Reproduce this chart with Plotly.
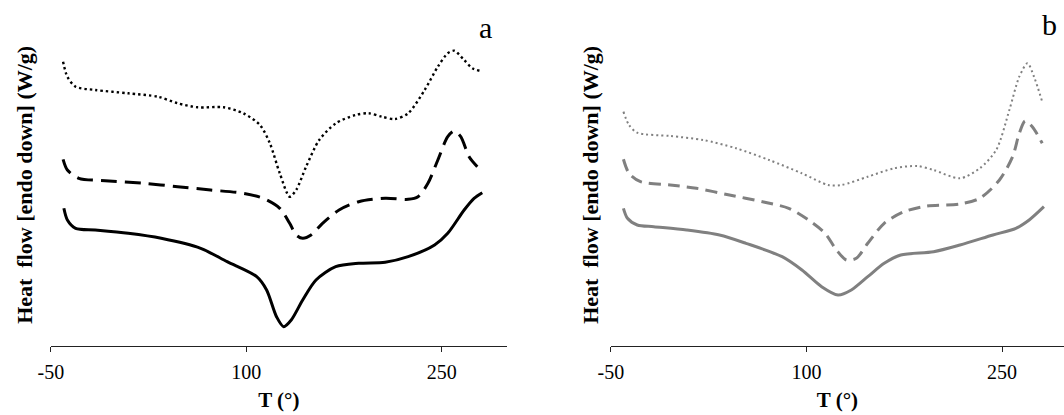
import plotly.graph_objects as go

# ---- Panel a: DSC thermograms (black) ----
a_solid_T = [-40, -37.3, -31, -15.9, 9.4, 34.7, 65, 85.3, 108, 115.6, 123.2, 128.7,
             134.5, 143.3, 153.5, 168.6, 186.3, 206.6, 224.2, 244.5, 254.6, 267.2, 274.8, 281.1]
a_solid_Q = [13.77, 12.6, 11.77, 11.6, 11.27, 10.77, 9.77, 8.43, 6.93, 5.6, 2.93, 1.93,
             2.6, 4.6, 6.6, 7.93, 8.27, 8.37, 8.93, 10.1, 11.27, 13.6, 14.77, 15.33]

a_dash_T = [-40.6, -37.3, -28.5, -8.3, 22, 47.3, 72.6, 97.8, 113, 125.7, 133.3, 138.3, 143.3,
            149.7, 158.5, 171.2, 186.3, 206.6, 224.2, 231.8, 239.4, 247, 254.6, 259.6, 264.6,
            271, 277.3]
a_dash_Q = [18.67, 17.6, 16.77, 16.53, 16.27, 15.93, 15.6, 15.27, 14.77, 13.77, 12.27, 11.1,
            10.77, 11.1, 12.27, 13.6, 14.43, 14.77, 14.67, 14.93, 16.27, 18.6, 20.93, 21.5,
            20.93, 18.93, 17.93]

a_dot_T = [-40.6, -37.3, -31, -15.9, 9.4, 32.2, 47.3, 62.5, 82.7, 97.8, 110.5, 118.1, 125.7,
           133.3, 138.3, 145.9, 156, 168.7, 183.8, 193.9, 204, 214.1, 224.2, 236.9, 247,
           254.6, 259.6, 267.2, 273.5, 279.8]
a_dot_Q = [28.43, 26.93, 25.93, 25.6, 25.27, 24.93, 24.27, 23.87, 23.87, 23.27, 22.1, 20.27,
           17.27, 14.93, 15.6, 17.93, 20.6, 22.27, 23.1, 23.27, 22.93, 22.7, 23.27, 25.6,
           27.93, 29.27, 29.53, 28.6, 27.77, 27.5]

# ---- Panel b: DSC thermograms (grey) ----
b_solid_T = [-40.4, -37.3, -29.8, -17.1, 8.1, 33.3, 53.6, 81.3, 96.5, 111.6, 124.2, 134.4,
             147, 159.6, 172.3, 197.5, 217.7, 243, 260.6, 270.8, 282.1]
b_solid_Q = [13.77, 12.77, 12.1, 11.93, 11.6, 11.1, 10.27, 8.93, 7.6, 5.93, 5.1, 5.6,
             6.93, 8.27, 9.1, 9.43, 10.1, 11.1, 11.77, 12.6, 13.93]

b_dash_T = [-40.4, -36.1, -27.3, -4.5, 15.6, 40.9, 66.2, 86.4, 101.5, 114.2, 123, 130.6,
            138.2, 147, 159.6, 174.8, 192.4, 217.7, 232.9, 248, 258.1, 263.2, 267.7, 273.2, 280.8]
b_dash_Q = [18.67, 17.27, 16.43, 16.1, 15.77, 15.1, 14.43, 13.77, 12.6, 11.27, 9.6, 8.6,
            8.77, 10.27, 12.27, 13.43, 14.0, 14.2, 14.77, 16.6, 18.93, 21.27, 22.5, 21.93, 20.27]

b_dot_T = [-40.4, -36.1, -29.8, -4.5, 20.8, 46.1, 71.3, 96.5, 116.7, 126.8, 147, 167.2,
           184.9, 197.5, 217.7, 232.9, 245.5, 255.6, 263.2, 269.5, 274.5, 280.8]
b_dot_Q = [23.43, 22.1, 21.33, 21.0, 20.6, 19.77, 18.6, 17.27, 16.1, 16.1, 16.93, 17.77,
           18.0, 17.6, 16.77, 17.77, 19.6, 23.6, 26.93, 28.27, 26.93, 24.43]

x_ticks = [-50, 100, 250]
y_title = "Heat  flow [endo down] (W/g)"
x_title = "T (°)"

SERIF = "Liberation Serif, Times New Roman, serif"
BLACK = "#000000"
GREY = "#808080"

fig = go.Figure()


def add_curve(T, Q, color, width, dash, axis):
    fig.add_trace(go.Scatter(
        x=T, y=Q, mode="lines",
        line=dict(color=color, width=width, dash=dash, shape="spline", smoothing=0.8),
        xaxis="x" if axis == 1 else "x2",
        yaxis="y" if axis == 1 else "y2",
        hoverinfo="skip", showlegend=False,
    ))


add_curve(a_solid_T, a_solid_Q, BLACK, 3, "solid", 1)
add_curve(a_dash_T, a_dash_Q, BLACK, 3, "16px,8px", 1)
add_curve(a_dot_T, a_dot_Q, BLACK, 2.4, "2.4px,3px", 1)

add_curve(b_solid_T, b_solid_Q, GREY, 3, "solid", 2)
add_curve(b_dash_T, b_dash_Q, GREY, 3, "12px,7px", 2)
add_curve(b_dot_T, b_dot_Q, GREY, 2, "2px,3px", 2)

W, H = 1064, 415
y_dom = [(H - 346) / H, (H - 20) / H]

xaxis_common = dict(
    tickmode="array", tickvals=x_ticks, ticktext=[str(v) for v in x_ticks],
    showline=True, linecolor="#222222", linewidth=1,
    ticks="outside", ticklen=5, tickwidth=1, tickcolor="#222222",
    ticklabelstandoff=3,
    showgrid=False, zeroline=False,
    tickfont=dict(family=SERIF, size=20, color="#000000"),
    title=dict(text="<b>" + x_title + "</b>", font=dict(family=SERIF, size=21, color="#000000"),
               standoff=10),
    fixedrange=True,
)
yaxis_common = dict(
    range=[0, 32.6], visible=False, fixedrange=True,
)

fig.update_layout(
    width=W, height=H,
    margin=dict(l=0, r=0, t=0, b=0),
    paper_bgcolor="white", plot_bgcolor="white",
    xaxis=dict(domain=[38.3 / W, 500 / W], range=[-50, 300], anchor="y", **xaxis_common),
    yaxis=dict(domain=y_dom, anchor="x", **yaxis_common),
    xaxis2=dict(domain=[605.3 / W, 1.0], range=[-50, 297.5], anchor="y2", **xaxis_common),
    yaxis2=dict(domain=y_dom, anchor="x2", **yaxis_common),
    annotations=[
        dict(text="<b>" + y_title + "</b>", textangle=-90, x=11 / W, y=(H - 185) / H,
             xref="paper", yref="paper", showarrow=False, xanchor="center", yanchor="middle",
             font=dict(family=SERIF, size=22, color="#000000")),
        dict(text="<b>" + y_title + "</b>", textangle=-90, x=584 / W, y=(H - 185) / H,
             xref="paper", yref="paper", showarrow=False, xanchor="center", yanchor="middle",
             font=dict(family=SERIF, size=22, color="#000000")),
        dict(text="a", x=478 / W, y=(H - 27) / H, xref="paper", yref="paper",
             showarrow=False, xanchor="center", yanchor="middle",
             font=dict(family=SERIF, size=30, color="#000000")),
        dict(text="b", x=1049 / W, y=(H - 25) / H, xref="paper", yref="paper",
             showarrow=False, xanchor="center", yanchor="middle",
             font=dict(family=SERIF, size=30, color="#000000")),
    ],
)

fig.write_html("out.html")
